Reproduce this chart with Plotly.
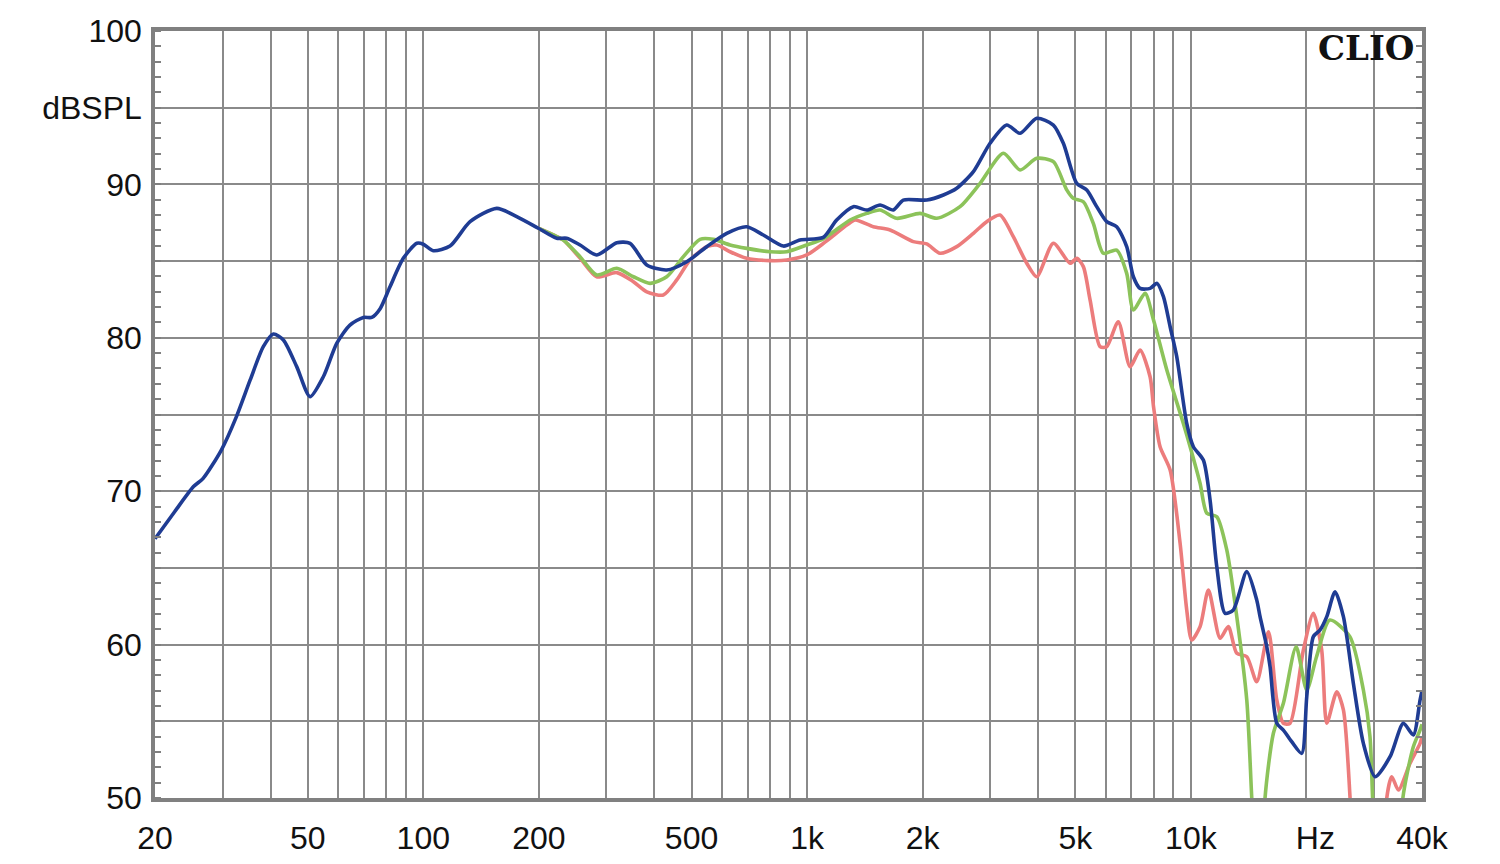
import plotly.graph_objects as go
import math

# ---------------- data ----------------
blue_f = [20, 22.5, 25.2, 26.7, 29.8, 32.6, 35.4, 38.3, 40.7, 43.2, 46.8, 50.7, 54.9, 59.5,
          64.4, 69.8, 73.4, 77.2, 81.9, 88.7, 96.2, 100, 106.2, 117.4, 132.4, 155.4, 175.2,
          199.4, 222.7, 236.3, 256.1, 283.1, 319.3, 345.8, 382.2, 430.8, 485.9, 547.8, 617.4,
          696.1, 768.8, 867.4, 958.4, 1102, 1194, 1320, 1430, 1549, 1678, 1781, 2050, 2265,
          2454, 2712, 2997, 3312, 3589, 3965, 4381, 4652, 5041, 5353, 5683, 6033, 6406, 6803,
          7081, 7372, 7827, 8149, 8480, 8828, 9185, 9752, 10148, 10774, 11217, 11679, 12274,
          12897, 13980, 14844, 15141, 15763, 16079, 16737, 17413, 18305, 19436, 20036, 20845,
          21701, 22590, 23745, 24962, 26502, 28140, 30189, 33030, 35765, 37974, 39535, 40000]
blue_db = [66.9, 68.66, 70.3, 70.84, 72.7, 74.86, 77.25, 79.42, 80.25, 79.86, 78.12, 76.16, 77.46, 79.64,
           80.83, 81.33, 81.33, 81.9, 83.33, 85.18, 86.16, 86.1, 85.68, 85.98, 87.57, 88.44, 87.9,
           87.14, 86.49, 86.49, 86.05, 85.4, 86.2, 86.16, 84.75, 84.42, 84.96, 85.94, 86.81,
           87.24, 86.7, 85.98, 86.38, 86.55, 87.68, 88.55, 88.33, 88.66, 88.33, 88.98, 88.98, 89.31,
           89.75, 90.83, 92.68, 93.87, 93.33, 94.31, 93.87, 92.68, 90.07, 89.64, 88.55, 87.57, 87.24, 85.94,
           83.98, 83.22, 83.22, 83.55, 82.68, 80.72, 78.77, 74.42, 72.9, 72.03, 69.43, 65.08, 62.04,
           62.26, 64.76, 62.9, 61.82, 59.86, 58.56, 54.87, 54.43, 53.67, 52.91, 56.61, 60.52,
           60.95, 61.82, 63.45, 61.82, 57.47, 53.56, 51.39, 52.69, 54.87, 54.11, 56.39, 57.0]

green_f = [199.4, 222.7, 231.7, 256.1, 283.1, 319.3, 352.7, 389.8, 430.8, 476.1, 526.1, 569.9,
           629.9, 696.1, 800.6, 884.9, 997.8, 1102, 1294, 1430, 1549, 1712, 1969, 2177, 2503,
           2823, 3246, 3589, 3965, 4381, 4747, 4939, 5245, 5568, 5913, 6406, 6803, 7081, 7594,
           7991, 8654, 9557, 9952, 10566, 11002, 11679, 12400, 13168, 13980, 14405, 14840,
           15350, 15600, 16400, 17413, 18800, 20036, 21245, 23013, 25950, 28140, 29280, 29740,
           30500, 34800, 35666, 37974, 39535, 40000]
green_db = [87.14, 86.6, 86.38, 85.29, 84.1, 84.53, 83.98, 83.55, 83.98, 85.29, 86.42, 86.42,
            86.05, 85.83, 85.61, 85.61, 86.05, 86.45, 87.68, 88.11, 88.33, 87.79, 88.11, 87.79, 88.55,
            90.07, 92.03, 90.94, 91.7, 91.48, 89.64, 89.09, 88.87, 87.46, 85.51, 85.72, 84.2, 81.81, 82.9,
            81.16, 77.9, 74.42, 72.9, 70.51, 68.56, 68.34, 66.17, 61.82, 56.39, 50.0, 44.0,
            44.0, 50.0, 54.22, 56.17, 59.86, 57.04, 59.21, 61.6, 60.52, 57.04, 53.99, 50.0,
            44.0, 44.0, 50.0, 53.34, 54.43, 54.8]

red_f = [199.4, 222.7, 231.7, 256.1, 283.1, 319.3, 352.7, 382.2, 422.1, 457.5, 495.5, 547.8,
         581.5, 629.9, 696.1, 800.6, 884.9, 997.8, 1118, 1269, 1334, 1488, 1645, 1891, 2050,
         2221, 2454, 2712, 2937, 3181, 3446, 3735, 3965, 4381, 4843, 5041, 5245, 5462, 5799,
         6033, 6468, 6941, 7372, 7827, 7991, 8311, 8828, 9372, 9752, 10048, 10566, 11108,
         11914, 12517, 13168, 13980, 14844, 15925, 16737, 17413, 18120, 19630, 20845, 21915,
         22590, 23990, 24962, 25980, 26600, 32000, 32380, 33370, 34720, 37230, 39535, 40000]
red_db = [87.14, 86.6, 86.38, 85.2, 83.98, 84.25, 83.66, 83.0, 82.79, 83.77, 85.07, 85.94,
          86.05, 85.61, 85.18, 85.03, 85.07, 85.4, 86.27, 87.35, 87.68, 87.24, 87.03, 86.27, 86.12,
          85.51, 85.94, 86.81, 87.57, 88.0, 86.59, 84.86, 83.98, 86.16, 84.86, 85.18, 84.64, 82.46, 79.42,
          79.42, 81.05, 78.12, 79.2, 77.46, 75.51, 72.9, 71.38, 66.6, 62.26, 60.3, 61.17, 63.56,
          60.41, 61.17, 59.43, 59.21, 57.58, 60.84, 56.39, 54.87, 54.87, 59.64, 62.04, 59.64,
          54.87, 56.93, 55.74, 50.0, 44.0, 44.0, 50.0, 51.39, 50.52, 52.26, 53.56, 54.0]

x_tickvals = [20, 50, 100, 200, 500, 1000, 2000, 5000, 10000, 20000, 40000]
x_ticktext = ["20", "50", "100", "200", "500", "1k", "2k", "5k", "10k", "\u00a0\u00a0Hz", "40k"]
y_tickvals = [50, 55, 60, 65, 70, 75, 80, 85, 90, 95, 100]
y_ticktext = ["50", "", "60", "", "70", "", "80", "", "90", "dBSPL", "100"]

# ---------------- styling ----------------
GRID = "#8a8a8a"
FRAME = "#808080"
FONT = "Liberation Sans, Arial, sans-serif"

x_minor = []
for dec in [10, 100, 1000, 10000]:
    for m in range(1, 10):
        v = m * dec
        if 20 <= v <= 40000 and v not in x_tickvals:
            x_minor.append(v)

fig = go.Figure()
fig.add_trace(go.Scatter(x=red_f, y=red_db, mode="lines",
                         line=dict(color="#ec7c7c", width=3.6, shape="spline", smoothing=0.7),
                         showlegend=False, hoverinfo="skip"))
fig.add_trace(go.Scatter(x=green_f, y=green_db, mode="lines",
                         line=dict(color="#8cc35a", width=3.6, shape="spline", smoothing=0.7),
                         showlegend=False, hoverinfo="skip"))
fig.add_trace(go.Scatter(x=blue_f, y=blue_db, mode="lines",
                         line=dict(color="#1f3c93", width=3.6, shape="spline", smoothing=0.7),
                         showlegend=False, hoverinfo="skip"))
fig.add_trace(go.Scatter(x=[None], y=[None], yaxis="y2", showlegend=False, hoverinfo="skip"))

fig.update_layout(
    width=1500, height=864,
    paper_bgcolor="white", plot_bgcolor="white",
    margin=dict(l=155, r=78, t=31, b=66, pad=0),
    font=dict(family=FONT, size=32, color="#111111"),
    xaxis=dict(
        type="log", range=[math.log10(20), math.log10(40000)],
        tickmode="array", tickvals=x_tickvals, ticktext=x_ticktext,
        ticks="", showgrid=True, gridcolor=GRID, gridwidth=1.6,
        showline=True, linecolor=FRAME, linewidth=3.5, mirror=True,
        zeroline=False, automargin=False, ticklabelstandoff=9,
        minor=dict(tickmode="array", tickvals=x_minor, showgrid=True,
                   gridcolor=GRID, gridwidth=1.6, ticks=""),
    ),
    yaxis=dict(
        range=[50, 100], tickmode="array", tickvals=y_tickvals, ticktext=y_ticktext,
        ticks="", showgrid=True, gridcolor=GRID, gridwidth=1.6,
        showline=True, linecolor=FRAME, linewidth=3.5, mirror=True,
        zeroline=False, automargin=False, ticklabelstandoff=3,
        minor=dict(dtick=1, tick0=50, ticks="inside", ticklen=6, tickwidth=1.5,
                   tickcolor=FRAME, showgrid=False),
    ),
    yaxis2=dict(
        range=[50, 100], overlaying="y", side="right", anchor="x",
        showgrid=False, showline=False, showticklabels=False, zeroline=False,
        ticks="", automargin=False,
        minor=dict(dtick=1, tick0=50, ticks="inside", ticklen=6, tickwidth=1.5,
                   tickcolor=FRAME, showgrid=False),
    ),
    annotations=[dict(
        text="<b>CLIO</b>", xref="paper", yref="paper", x=1, y=0.978,
        xanchor="right", yanchor="middle", xshift=-5, showarrow=False,
        font=dict(family="DejaVu Serif, serif", size=34, color="#111111"),
    )],
)

fig.write_html("out.html", config={"displayModeBar": False},
               post_script="document.body.style.margin='0';document.body.style.overflow='hidden';")
